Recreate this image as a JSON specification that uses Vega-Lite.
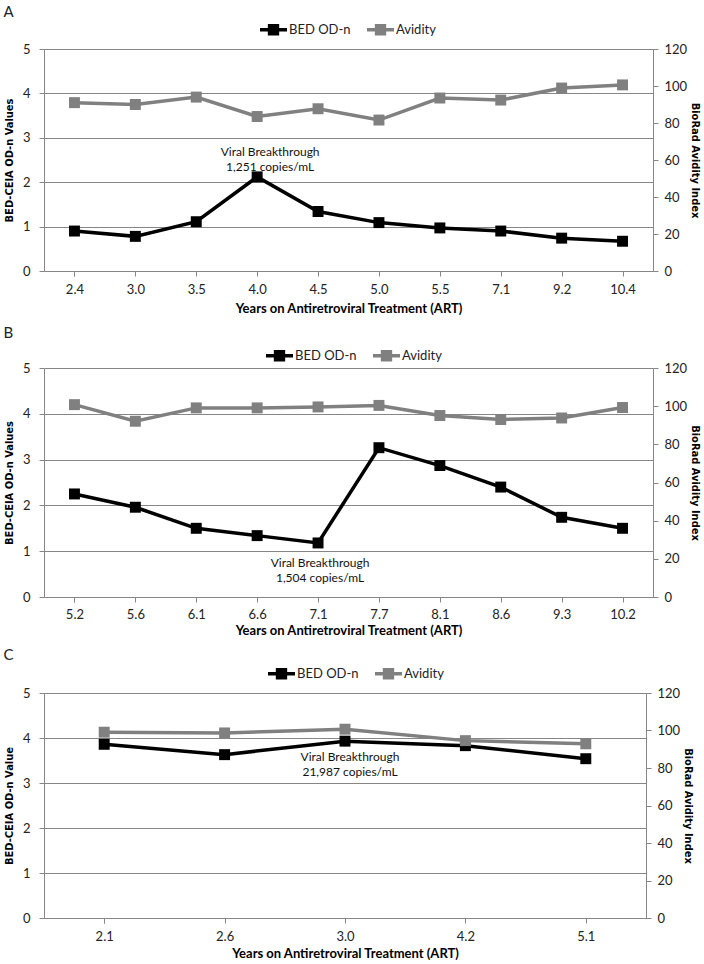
{
  "$schema": "https://vega.github.io/schema/vega-lite/v6.json",
  "background": "white",
  "padding": {"left": 3, "top": 5, "right": 0, "bottom": 0},
  "spacing": 11,
  "config": {
    "view": {"stroke": null},
    "font": "Lato",
    "axis": {
      "domainColor": "#868686", "tickColor": "#868686", "gridColor": "#868686",
      "labelFont": "Lato", "labelFontSize": 13, "labelColor": "#222222",
      "tickSize": 5, "titleColor": "#000000", "labelOverlap": false
    },
    "axisX": {"labelAngle": 0, "tickBand": "extent", "titleFont": "Lato", "titleFontSize": 13, "titleFontWeight": "bold", "labelPadding": 7, "titlePadding": 6},
    "axisY": {"titleFont": "DejaVu Sans Condensed", "titleFontSize": 11, "titleFontWeight": "bold", "labelPadding": 9, "titlePadding": 8},
    "legend": {
      "orient": "none", "direction": "horizontal", "title": null,
      "symbolType": "M-1,-0.13L1,-0.13L1,0.13L-1,0.13Z M-0.42,-0.42L0.42,-0.42L0.42,0.42L-0.42,0.42Z",
      "symbolSize": 729, "symbolStrokeWidth": 0, "symbolOpacity": 1,
      "labelFont": "Lato", "labelFontSize": 13, "labelColor": "#222222",
      "labelOffset": 2, "columnPadding": 16
    },
    "title": {"anchor": "start", "font": "Lato", "fontSize": 15, "fontWeight": "normal", "color": "#222222"}
  },
  "resolve": {"scale": {"x": "independent", "y": "independent", "color": "independent"}, "legend": {"color": "independent"}},
  "vconcat": [
    {
      "title": {"text": "A", "offset": -4},
      "width": 609, "height": 222,
      "data": {"values": [
        {"t": "2.4", "bed": 0.90, "avid": 91.0},
        {"t": "3.0", "bed": 0.78, "avid": 90.0},
        {"t": "3.5", "bed": 1.11, "avid": 94.0},
        {"t": "4.0", "bed": 2.12, "avid": 83.5},
        {"t": "4.5", "bed": 1.34, "avid": 87.7},
        {"t": "5.0", "bed": 1.09, "avid": 81.6},
        {"t": "5.5", "bed": 0.97, "avid": 93.5},
        {"t": "7.1", "bed": 0.90, "avid": 92.4},
        {"t": "9.2", "bed": 0.74, "avid": 98.9},
        {"t": "10.4", "bed": 0.67, "avid": 100.6}
      ]},
      "encoding": {"x": {"field": "t", "type": "ordinal", "sort": null, "scale": {"paddingInner": 0, "paddingOuter": 0}, "axis": {"title": "Years on Antiretroviral Treatment (ART)"}}},
      "layer": [
        {
          "encoding": {"y": {"field": "bed", "type": "quantitative", "scale": {"domain": [0, 5], "nice": false}, "axis": {"title": "BED-CEIA OD-n Values", "values": [0, 1, 2, 3, 4, 5], "grid": true}}},
          "layer": [
            {"mark": {"type": "line", "color": "#000000", "strokeWidth": 3.5}},
            {"mark": {"type": "point", "shape": "square", "filled": true, "size": 120, "opacity": 1},
             "encoding": {"color": {"datum": "BED OD-n", "scale": {"domain": ["BED OD-n", "Avidity"], "range": ["#000000", "#808080"]}, "legend": {"legendX": 216, "legendY": -33}}}},
            {"data": {"values": [{"t": "4.0", "bed": 2.68, "label": ["Viral Breakthrough", "1,251 copies/mL"]}]},
             "mark": {"type": "text", "font": "Lato", "fontSize": 12, "color": "#111111", "baseline": "middle", "lineHeight": 15, "dx": 13},
             "encoding": {"text": {"field": "label"}}}
          ]
        },
        {
          "encoding": {"y": {"field": "avid", "type": "quantitative", "scale": {"domain": [0, 120], "nice": false}, "axis": {"orient": "right", "title": "BioRad Avidity Index", "values": [0, 20, 40, 60, 80, 100, 120], "grid": false, "labelPadding": 6, "titlePadding": 3}}},
          "layer": [
            {"mark": {"type": "line", "color": "#808080", "strokeWidth": 3.5}},
            {"mark": {"type": "point", "shape": "square", "filled": true, "size": 120, "opacity": 1},
             "encoding": {"color": {"datum": "Avidity"}}}
          ]
        }
      ],
      "resolve": {"scale": {"y": "independent"}}
    },
    {
      "title": {"text": "B", "offset": 1},
      "width": 609, "height": 229,
      "data": {"values": [
        {"t": "5.2", "bed": 2.25, "avid": 100.8},
        {"t": "5.6", "bed": 1.96, "avid": 92.1},
        {"t": "6.1", "bed": 1.50, "avid": 99.1},
        {"t": "6.6", "bed": 1.34, "avid": 99.1},
        {"t": "7.1", "bed": 1.18, "avid": 99.6},
        {"t": "7.7", "bed": 3.26, "avid": 100.4},
        {"t": "8.1", "bed": 2.87, "avid": 95.1},
        {"t": "8.6", "bed": 2.40, "avid": 93.0},
        {"t": "9.3", "bed": 1.74, "avid": 93.8},
        {"t": "10.2", "bed": 1.50, "avid": 99.3}
      ]},
      "encoding": {"x": {"field": "t", "type": "ordinal", "sort": null, "scale": {"paddingInner": 0, "paddingOuter": 0}, "axis": {"title": "Years on Antiretroviral Treatment (ART)", "labelPadding": 6, "titlePadding": 3}}},
      "layer": [
        {
          "encoding": {"y": {"field": "bed", "type": "quantitative", "scale": {"domain": [0, 5], "nice": false}, "axis": {"title": "BED-CEIA OD-n Values", "values": [0, 1, 2, 3, 4, 5], "grid": true}}},
          "layer": [
            {"mark": {"type": "line", "color": "#000000", "strokeWidth": 3.5}},
            {"mark": {"type": "point", "shape": "square", "filled": true, "size": 120, "opacity": 1},
             "encoding": {"color": {"datum": "BED OD-n", "scale": {"domain": ["BED OD-n", "Avidity"], "range": ["#000000", "#808080"]}, "legend": {"legendX": 222, "legendY": -26}}}},
            {"data": {"values": [{"t": "7.1", "bed": 0.74, "label": ["Viral Breakthrough", "1,504 copies/mL"]}]},
             "mark": {"type": "text", "font": "Lato", "fontSize": 12, "color": "#111111", "baseline": "middle", "lineHeight": 15, "dx": 2},
             "encoding": {"text": {"field": "label"}}}
          ]
        },
        {
          "encoding": {"y": {"field": "avid", "type": "quantitative", "scale": {"domain": [0, 120], "nice": false}, "axis": {"orient": "right", "title": "BioRad Avidity Index", "values": [0, 20, 40, 60, 80, 100, 120], "grid": false, "labelPadding": 6, "titlePadding": 3}}},
          "layer": [
            {"mark": {"type": "line", "color": "#808080", "strokeWidth": 3.5}},
            {"mark": {"type": "point", "shape": "square", "filled": true, "size": 120, "opacity": 1},
             "encoding": {"color": {"datum": "Avidity"}}}
          ]
        }
      ],
      "resolve": {"scale": {"y": "independent"}}
    },
    {
      "title": {"text": "C", "offset": -3},
      "width": 602, "height": 225,
      "data": {"values": [
        {"t": "2.1", "bed": 3.86, "avid": 99.1},
        {"t": "2.6", "bed": 3.63, "avid": 98.7},
        {"t": "3.0", "bed": 3.93, "avid": 100.7},
        {"t": "4.2", "bed": 3.83, "avid": 94.6},
        {"t": "5.1", "bed": 3.54, "avid": 92.9}
      ]},
      "encoding": {"x": {"field": "t", "type": "ordinal", "sort": null, "scale": {"paddingInner": 0, "paddingOuter": 0}, "axis": {"title": "Years on Antiretroviral Treatment (ART)", "titlePadding": 4}}},
      "layer": [
        {
          "encoding": {"y": {"field": "bed", "type": "quantitative", "scale": {"domain": [0, 5], "nice": false}, "axis": {"title": "BED-CEIA OD-n Value", "values": [0, 1, 2, 3, 4, 5], "grid": true}}},
          "layer": [
            {"mark": {"type": "line", "color": "#000000", "strokeWidth": 3.5}},
            {"mark": {"type": "point", "shape": "square", "filled": true, "size": 120, "opacity": 1},
             "encoding": {"color": {"datum": "BED OD-n", "scale": {"domain": ["BED OD-n", "Avidity"], "range": ["#000000", "#808080"]}, "legend": {"legendX": 224, "legendY": -33}}}},
            {"data": {"values": [{"t": "3.0", "bed": 3.58, "label": ["Viral Breakthrough", "21,987 copies/mL"]}]},
             "mark": {"type": "text", "font": "Lato", "fontSize": 12, "color": "#111111", "baseline": "middle", "lineHeight": 15, "dx": 5},
             "encoding": {"text": {"field": "label"}}}
          ]
        },
        {
          "encoding": {"y": {"field": "avid", "type": "quantitative", "scale": {"domain": [0, 120], "nice": false}, "axis": {"orient": "right", "title": "BioRad Avidity Index", "values": [0, 20, 40, 60, 80, 100, 120], "grid": false, "labelPadding": 6, "titlePadding": 3}}},
          "layer": [
            {"mark": {"type": "line", "color": "#808080", "strokeWidth": 3.5}},
            {"mark": {"type": "point", "shape": "square", "filled": true, "size": 120, "opacity": 1},
             "encoding": {"color": {"datum": "Avidity"}}}
          ]
        }
      ],
      "resolve": {"scale": {"y": "independent"}}
    }
  ]
}
